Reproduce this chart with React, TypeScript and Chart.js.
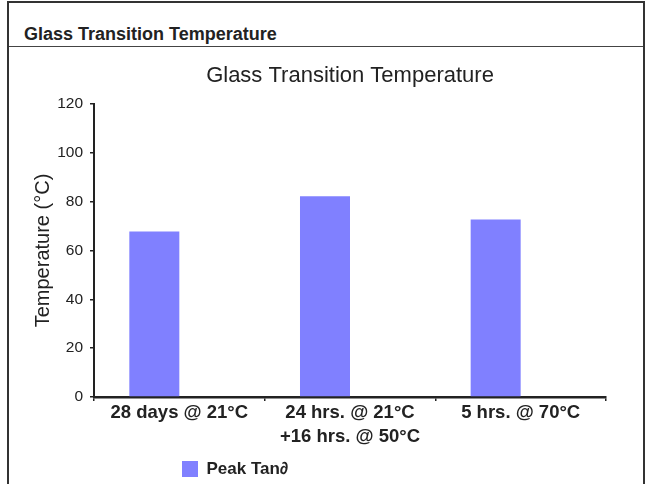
import React, { useEffect, useRef } from "react";
import { Chart, registerables } from "chart.js";

Chart.register(...registerables);

const categories: string[][] = [
  ["28 days @ 21°C"],
  ["24 hrs. @ 21°C", "+16 hrs. @ 50°C"],
  ["5 hrs. @ 70°C"],
];
const peakTanValues: number[] = [67.8, 82.2, 72.7];
const emptySlotValues: (number | null)[] = [null, null, null];
const seriesLabel = "Peak Tan∂";
const chartTitle = "Glass Transition Temperature";
const panelTitle = "Glass Transition Temperature";
const yAxisTitle = "Temperature (°C)";
const yMin = 0;
const yMax = 120;
const yStep = 20;

const FONT = "'Liberation Sans', Arial, Helvetica, sans-serif";
const INK = "#222222";

export default function App() {
  const canvasRef = useRef<HTMLCanvasElement | null>(null);

  useEffect(() => {
    const canvas = canvasRef.current;
    if (!canvas) return;

    const legendMover = {
      id: "legendMover",
      afterLayout(chart: any) {
        const lg = chart.legend;
        if (!lg) return;
        const w = lg.width;
        const h = lg.height;
        lg.left = 172;
        lg.right = 172 + w;
        lg.top = 450.5;
        lg.bottom = 450.5 + h;
      },
    };

    const chart = new Chart(canvas, {
      type: "bar",
      data: {
        labels: categories,
        datasets: [
          {
            label: seriesLabel,
            data: peakTanValues,
            backgroundColor: "#8080FF",
            borderWidth: 0,
            categoryPercentage: 0.586,
            barPercentage: 1.0,
          },
          {
            label: "",
            data: emptySlotValues as any,
            backgroundColor: "rgba(0,0,0,0)",
            borderWidth: 0,
            categoryPercentage: 0.586,
            barPercentage: 1.0,
          },
        ],
      },
      options: {
        responsive: false,
        animation: false,
        events: [],
        layout: { padding: { left: 28, right: 45, top: 0, bottom: 0 } },
        plugins: {
          tooltip: { enabled: false },
          title: {
            display: true,
            text: chartTitle,
            fullSize: false,
            color: INK,
            font: { family: FONT, size: 22, weight: "normal", lineHeight: 1.2 },
            padding: { top: 62.3, bottom: 15.3 },
          },
          legend: {
            display: true,
            position: "bottom",
            align: "start",
            fullSize: false,
            labels: {
              color: INK,
              font: { family: FONT, size: 17, weight: "bold" },
              boxWidth: 16,
              boxHeight: 16,
              padding: 10,
              filter: (item: any) => item.text !== "",
            },
          },
        },
        scales: {
          x: {
            offset: true,
            grid: {
              display: true,
              drawOnChartArea: false,
              drawTicks: true,
              tickLength: 4,
              color: INK,
              lineWidth: 1.5,
              offset: true,
            },
            border: { display: true, color: INK, width: 2.5 },
            ticks: {
              color: INK,
              font: { family: FONT, size: 18.5, weight: "bold", lineHeight: 1.3 },
              padding: 0,
              maxRotation: 0,
              autoSkip: false,
            },
            afterFit: (s: any) => {
              s.height = 50;
            },
          },
          y: {
            min: yMin,
            max: yMax,
            grid: {
              display: true,
              drawOnChartArea: false,
              drawTicks: true,
              tickLength: 4,
              color: INK,
              lineWidth: 1.5,
            },
            border: { display: true, color: INK, width: 2 },
            ticks: {
              stepSize: yStep,
              color: INK,
              font: { family: FONT, size: 15.5, weight: "normal" },
              padding: 7,
            },
            title: {
              display: true,
              text: yAxisTitle,
              color: INK,
              font: { family: FONT, size: 20, weight: "normal", lineHeight: 1.2 },
              padding: { top: 3, bottom: 0 },
            },
            afterFit: (s: any) => {
              s.width = 66;
            },
          },
        },
      },
      plugins: [legendMover],
    } as any);

    return () => {
      chart.destroy();
    };
  }, []);

  return (
    <div
      style={{
        position: "absolute",
        left: 0,
        top: 0,
        width: 651,
        height: 484,
        overflow: "hidden",
        background: "#ffffff",
      }}
    >
      <div
        style={{
          position: "absolute",
          left: 7,
          top: 1,
          width: 634,
          height: 520,
          borderTop: "2px solid #333",
          borderLeft: "2px solid #333",
          borderRight: "2px solid #333",
        }}
      />
      <div
        style={{
          position: "absolute",
          left: 9,
          top: 46,
          width: 634,
          height: 0,
          borderTop: "1.5px solid #444",
        }}
      />
      <div
        style={{
          position: "absolute",
          left: 24,
          top: 22,
          fontFamily: FONT,
          fontWeight: "bold",
          fontSize: 18,
          lineHeight: "24px",
          color: "#222",
          whiteSpace: "nowrap",
        }}
      >
        {panelTitle}
      </div>
      <canvas
        ref={canvasRef}
        width={651}
        height={484}
        style={{ position: "absolute", left: 0, top: 0, width: 651, height: 484 }}
      />
    </div>
  );
}
